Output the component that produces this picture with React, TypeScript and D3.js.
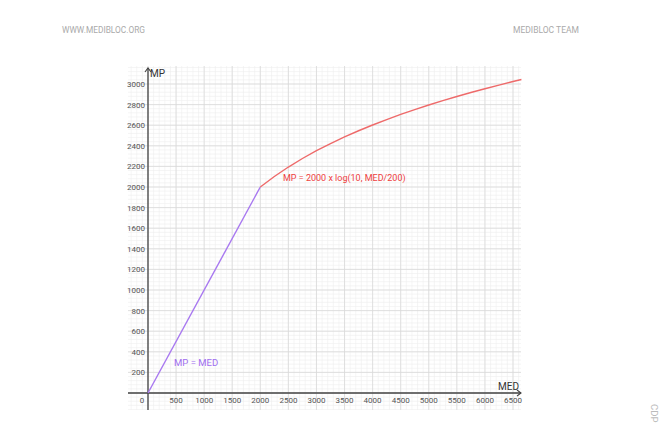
import React from "react";
import * as d3 from "d3";

const xTicks = [0, 500, 1000, 1500, 2000, 2500, 3000, 3500, 4000, 4500, 5000, 5500, 6000, 6500];
const yTicks = [200, 400, 600, 800, 1000, 1200, 1400, 1600, 1800, 2000, 2200, 2400, 2600, 2800, 3000];
const linearMED = [0, 2000];
const logMED = [2000, 2250, 2500, 2750, 3000, 3250, 3500, 3750, 4000, 4250, 4500, 4750, 5000, 5250, 5500, 5750, 6000, 6250, 6500, 6650];
const headerLeft = "WWW.MEDIBLOC.ORG";
const headerRight = "MEDIBLOC TEAM";
const linearLabel = "MP = MED";
const logLabel = "MP = 2000 x log(10, MED/200)";

export default function App() {
  const W = 671, H = 423;
  const x = d3.scaleLinear().domain([0, 6500]).range([148, 513]);
  const y = d3.scaleLinear().domain([0, 3000]).range([393, 84]);
  const gx0 = 128, gx1 = 521, gy0 = 66, gy1 = 410;
  const minorXs = d3.range(-300, 6700, 100);
  const minorYs = d3.range(-160, 3240, 40);
  const majorXs = d3.range(-500, 7000, 500);
  const majorYs = d3.range(-200, 3400, 200);
  const lin = d3.line<number>().x((d) => x(d)).y((d) => y(d));
  const lg = d3.line<number>().x((d) => x(d)).y((d) => y(2000 * Math.log10(d / 200)));
  const font = "Roboto, 'Noto Sans', sans-serif";
  return (
    <svg width={W} height={H} style={{ position: "absolute", left: 0, top: 0 }} fontFamily={font}>
      <rect width={W} height={H} fill="#fff" />
      <text x={62} y={33} fontSize={9} fill="#aaa" textLength={83} lengthAdjust="spacingAndGlyphs">{headerLeft}</text>
      <text x={513} y={33} fontSize={9} fill="#aaa" textLength={66} lengthAdjust="spacingAndGlyphs">{headerRight}</text>
      <defs>
        <clipPath id="gclip"><rect x={gx0} y={gy0} width={gx1 - gx0} height={gy1 - gy0} /></clipPath>
      </defs>
      <g clipPath="url(#gclip)">
        {minorXs.map((v) => (
          <line key={"mx" + v} x1={x(v)} x2={x(v)} y1={gy0} y2={gy1} stroke="#efefef" strokeWidth={0.6} />
        ))}
        {minorYs.map((v) => (
          <line key={"my" + v} x1={gx0} x2={gx1} y1={y(v)} y2={y(v)} stroke="#efefef" strokeWidth={0.6} />
        ))}
        {majorXs.map((v) => (
          <line key={"Mx" + v} x1={x(v)} x2={x(v)} y1={gy0} y2={gy1} stroke="#d9d9d9" strokeWidth={0.8} />
        ))}
        {majorYs.map((v) => (
          <line key={"My" + v} x1={gx0} x2={gx1} y1={y(v)} y2={y(v)} stroke="#d9d9d9" strokeWidth={0.8} />
        ))}
      </g>
      {/* axes */}
      <line x1={gx0} x2={gx1} y1={y(0)} y2={y(0)} stroke="#444" strokeWidth={1.3} />
      <line x1={x(0)} x2={x(0)} y1={gy1} y2={68} stroke="#444" strokeWidth={1.3} />
      <path d={`M${gx1 - 4},${y(0) - 3} L${gx1},${y(0)} L${gx1 - 4},${y(0) + 3}`} fill="none" stroke="#444" strokeWidth={1.1} />
      <path d={`M${x(0) - 3},${72} L${x(0)},${68} L${x(0) + 3},${72}`} fill="none" stroke="#444" strokeWidth={1.1} />
      <text x={x(0) + 2} y={77} fontSize={10} fill="#333">MP</text>
      <text x={519} y={390} fontSize={10} fill="#333" textAnchor="end">MED</text>
      {xTicks.map((v) => (
        <text key={"xt" + v} x={v === 0 ? 142 : x(v)} y={403} fontSize={8} fill="#555" textAnchor="middle">{v}</text>
      ))}
      {yTicks.map((v) => (
        <text key={"yt" + v} x={145} y={y(v) + 3} fontSize={8} fill="#555" textAnchor="end">{v}</text>
      ))}
      <path d={lin(linearMED) || ""} fill="none" stroke="#a878f0" strokeWidth={1.4} />
      <path d={lg(logMED) || ""} fill="none" stroke="#ee6a6a" strokeWidth={1.4} />
      <text x={174} y={366} fontSize={9.5} fill="#a06ef0">{linearLabel}</text>
      <text x={283} y={181} fontSize={9} fill="#ee4040">{logLabel}</text>
      <text transform="translate(651,404) rotate(90)" fontSize={9.5} fill="#bbb">CDP</text>
    </svg>
  );
}
